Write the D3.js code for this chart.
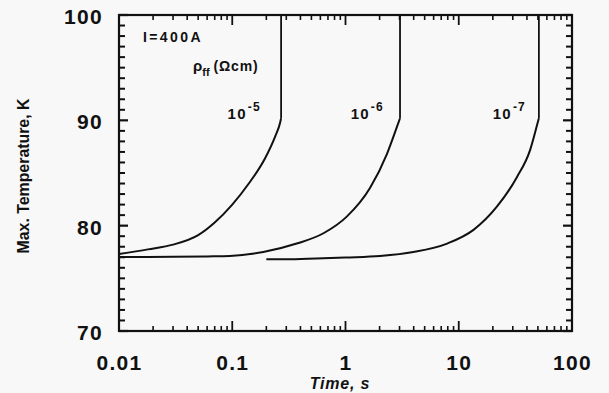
<!DOCTYPE html>
<html>
<head>
<meta charset="utf-8">
<script src="https://cdn.jsdelivr.net/npm/d3@7"></script>
<style>
  html, body { margin: 0; padding: 0; background: #f8f8f8; }
  svg { display: block; }
  text { font-family: "Liberation Sans", Arial, sans-serif; font-weight: bold; fill: #111; }
</style>
</head>
<body>
<svg id="chart" width="609" height="393"></svg>
<script>
// ---- data ----
const xTickValues = [0.01, 0.1, 1, 10, 100];
const xTickLabels = ["0.01", "0.1", "1", "10", "100"];
const yTickValues = [70, 80, 90, 100];
const yTickLabels = ["70", "80", "90", "100"];

// rho_ff = 1e-5 Ohm cm
const seriesA = [[0.01, 77.3], [0.018, 77.75], [0.03, 78.2], [0.05, 79.1], [0.07, 80.3],
                 [0.1, 82.0], [0.14, 84.0], [0.195, 86.4], [0.24, 88.5], [0.265, 89.8],
                 [0.27, 90.2], [0.27, 100]];
// rho_ff = 1e-6 Ohm cm
const seriesB = [[0.01, 77.03], [0.03, 77.04], [0.06, 77.08], [0.0955, 77.12], [0.188, 77.5],
                 [0.371, 78.3], [0.639, 79.28], [1.026, 80.86], [1.65, 83.6], [2.32, 86.8],
                 [2.85, 89.4], [3.03, 90.2], [3.03, 100]];
// rho_ff = 1e-7 Ohm cm
const seriesC = [[0.2, 76.8], [0.3, 76.8], [0.55, 76.88], [1.0, 76.98], [2.02, 77.12],
                 [3.98, 77.5], [7.9, 78.3], [13.5, 79.6], [21.7, 81.8], [32.6, 84.6],
                 [42.7, 87.2], [49.0, 89.5], [51, 90.2], [51, 100]];
const seriesList = [seriesA, seriesB, seriesC];
const curveBase = ["10", "10", "10"];
const curveExp = ["-5", "-6", "-7"];
const curveLabelT = [0.091, 1.11, 20.0];

// ---- drawing ----
const svg = d3.select("#chart");
svg.append("rect").attr("width", 609).attr("height", 393).attr("fill", "#f8f8f8");

const plotL = 119, plotR = 572, plotT = 15, plotB = 331;
const x = d3.scaleLog().domain([0.01, 100]).range([plotL, plotR]);
const y = d3.scaleLinear().domain([70, 100]).range([plotB, plotT]);

const ink = "#111";
const tickFont = 21;

// tick labels via axes
const xAxis = svg.append("g").attr("transform", `translate(0,${plotB})`)
  .call(d3.axisBottom(x).tickValues(xTickValues).tickSize(0).tickPadding(24)
        .tickFormat((d, i) => xTickLabels[i]));
xAxis.select(".domain").remove();
xAxis.selectAll("text").attr("font-size", tickFont).attr("letter-spacing", 1.3)
  .attr("fill", ink).style("font-family", "'Liberation Sans', Arial, sans-serif");

const yAxis = svg.append("g").attr("transform", `translate(${plotL},0)`)
  .call(d3.axisLeft(y).tickValues(yTickValues).tickSize(0).tickPadding(16)
        .tickFormat((d, i) => yTickLabels[i]));
yAxis.select(".domain").remove();
yAxis.selectAll("text").attr("font-size", tickFont).attr("letter-spacing", 1.3)
  .attr("dy", "0.4em").attr("fill", ink)
  .style("font-family", "'Liberation Sans', Arial, sans-serif");

// curves
svg.append("clipPath").attr("id", "plotclip")
  .append("rect").attr("x", plotL).attr("y", plotT - 1)
  .attr("width", plotR - plotL).attr("height", plotB - plotT + 2);

const smooth = d3.line().x(d => x(d[0])).y(d => y(d[1])).curve(d3.curveMonotoneX);
const straight = d3.line().x(d => x(d[0])).y(d => y(d[1]));

const cg = svg.append("g").attr("clip-path", "url(#plotclip)");
seriesList.forEach(s => {
  const body = s.slice(0, s.length - 1);
  const tail = s.slice(s.length - 2);
  cg.append("path").attr("d", smooth(body)).attr("fill", "none")
    .attr("stroke", ink).attr("stroke-width", 2);
  cg.append("path").attr("d", straight(tail)).attr("fill", "none")
    .attr("stroke", ink).attr("stroke-width", 1.8);
});

// frame
svg.append("rect").attr("x", plotL).attr("y", plotT)
  .attr("width", plotR - plotL).attr("height", plotB - plotT)
  .attr("fill", "none").attr("stroke", ink).attr("stroke-width", 2.2);

// tick marks from the scales, drawn as small filled rects
const xMinor = x.ticks().filter(v => !xTickValues.some(m => Math.abs(m - v) / m < 1e-9));
const yMinor = y.ticks(30).filter(v => !yTickValues.includes(v));

const tickGroup = svg.append("g").attr("fill", ink);
function xTickRects(vals, len, w) {
  tickGroup.selectAll(null).data(vals).enter().append("rect")
    .attr("x", d => x(d) - w / 2).attr("y", plotB - len)
    .attr("width", w).attr("height", len).attr("fill", ink);
  tickGroup.selectAll(null).data(vals).enter().append("rect")
    .attr("x", d => x(d) - w / 2).attr("y", plotT)
    .attr("width", w).attr("height", len).attr("fill", ink);
}
function yTickRects(vals, len, w) {
  tickGroup.selectAll(null).data(vals).enter().append("rect")
    .attr("x", plotL).attr("y", d => y(d) - w / 2)
    .attr("width", len).attr("height", w).attr("fill", ink);
  tickGroup.selectAll(null).data(vals).enter().append("rect")
    .attr("x", plotR - len).attr("y", d => y(d) - w / 2)
    .attr("width", len).attr("height", w).attr("fill", ink);
}
xTickRects(xMinor, 5, 1.6);
xTickRects(xTickValues, 10, 1.8);
yTickRects(yMinor, 6, 2);
yTickRects(yTickValues, 9, 2.2);

// curve labels
seriesList.forEach((s, i) => {
  const lbl = svg.append("text").attr("x", x(curveLabelT[i])).attr("y", y(90.1))
    .attr("font-size", 15).attr("letter-spacing", 1.2);
  lbl.append("tspan").text(curveBase[i]);
  lbl.append("tspan").attr("dy", -8).attr("dx", 1).attr("font-size", 12).text(curveExp[i]);
});

// annotations
svg.append("text").attr("x", 143).attr("y", 42).attr("font-size", 14)
  .attr("letter-spacing", 2.4).text("I=400A");

const rho = svg.append("text").attr("x", 193).attr("y", 71).attr("font-size", 15);
rho.append("tspan").text("ρ");
rho.append("tspan").attr("dy", 5).attr("font-size", 11).text("ff");
rho.append("tspan").attr("dy", -5).attr("dx", 4).attr("font-size", 14).attr("letter-spacing", 0.8).text("(Ωcm)");

// axis titles
svg.append("text")
  .attr("transform", "translate(29,176) rotate(-90)")
  .attr("text-anchor", "middle").attr("font-size", 17)
  .attr("textLength", 155).attr("lengthAdjust", "spacingAndGlyphs")
  .text("Max. Temperature, K");

svg.append("text").attr("x", 340).attr("y", 389).attr("text-anchor", "middle")
  .attr("font-size", 16).attr("font-style", "italic").attr("letter-spacing", 0.8)
  .text("Time, s");
</script>
</body>
</html>
